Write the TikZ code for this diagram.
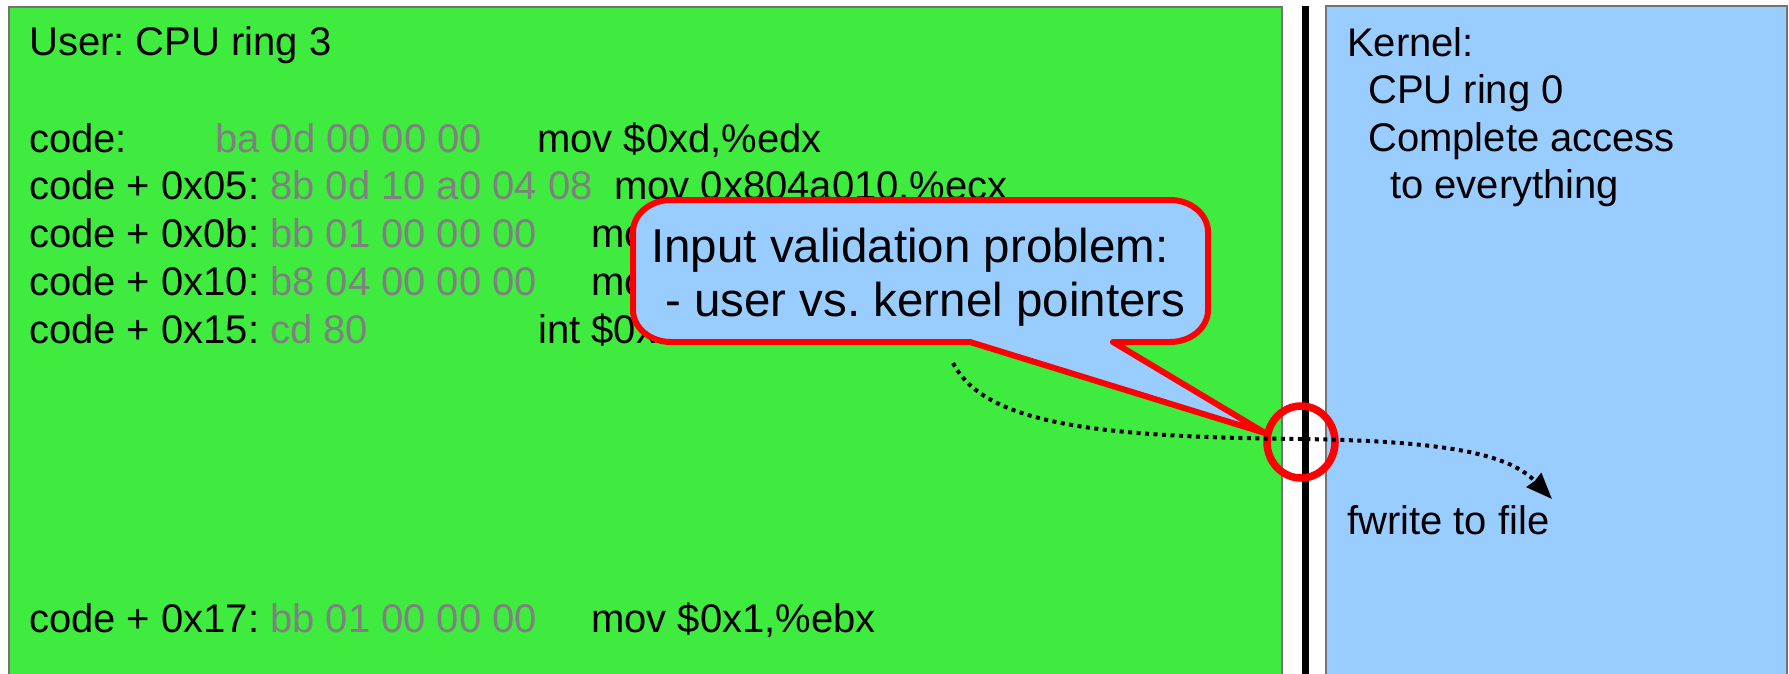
\documentclass[tikz,border=0pt]{standalone}
\usepackage{fontspec}
\setmainfont{Liberation Sans}
\usetikzlibrary{arrows.meta}
\definecolor{usergreen}{RGB}{62,235,62}
\definecolor{kernblue}{RGB}{153,204,255}
\definecolor{hexgray}{RGB}{128,128,128}
\definecolor{callred}{RGB}{255,0,0}
\frenchspacing
\begin{document}
\begin{tikzpicture}[x=1pt,y=-1pt,
  txt/.style={anchor=base west, inner sep=0pt, font=\fontsize{40pt}{47pt}\selectfont\frenchspacing},
  hex/.style={txt, text=hexgray},
  ctxt/.style={anchor=base west, inner sep=0pt, font=\fontsize{47.5pt}{54pt}\selectfont\frenchspacing},
  region/.style={draw=black!55, line width=1.5pt},
  flow/.style={line width=4pt, dash pattern=on 4pt off 4.5pt, -{Stealth[length=26pt,width=20pt,inset=1pt]}},
  calloutshape/.style={draw=callred, fill=kernblue, line width=6pt, line join=round},
  ring/.style={draw=callred, line width=7.5pt}]
\useasboundingbox (0,0) rectangle (1789,673);
% regions
\path[region, fill=usergreen] (9,7) rectangle (1282,690);
\path[region, fill=kernblue] (1326,6) rectangle (1787,690);
\fill[black] (1302,6) rectangle (1309,690);
% user text
\node[txt] (utitle) at (29,55) {User: CPU ring 3};
\node[txt] (l1a) at (29,152) {code:};
\node[hex] (l1b) at (215,152) {ba 0d 00 00 00};
\node[txt] (l1c) at (537,152) {mov \$0xd,\%edx};
\node[txt] (l2a) at (29,199) {code + 0x05:};
\node[hex] (l2b) at (270,199) {8b 0d 10 a0 04 08};
\node[txt] (l2c) at (614,199) {mov 0x804a010,\%ecx};
\node[txt] (l3a) at (29,247) {code + 0x0b:};
\node[hex] (l3b) at (270,247) {bb 01 00 00 00};
\node[txt] (l3c) at (591,247) {mov \$0x1,\%ebx};
\node[txt] (l4a) at (29,295) {code + 0x10:};
\node[hex] (l4b) at (270,295) {b8 04 00 00 00};
\node[txt] (l4c) at (591,295) {mov \$0x4,\%eax};
\node[txt] (l5a) at (29,343) {code + 0x15:};
\node[hex] (l5b) at (270,343) {cd 80};
\node[txt] (l5c) at (538,343) {int \$0x80};
\node[txt] (l6a) at (29,632) {code + 0x17:};
\node[hex] (l6b) at (270,632) {bb 01 00 00 00};
\node[txt] (l6c) at (591,632) {mov \$0x1,\%ebx};
% kernel text
\node[txt] (k1) at (1347,56) {Kernel:};
\node[txt] (k2) at (1368,103) {CPU ring 0};
\node[txt] (k3) at (1368,151) {Complete access};
\node[txt] (k4) at (1390,198) {to everything};
\node[txt] (kf) at (1347,534) {fwrite to file};
% callout
\draw[calloutshape] (970,342) -- (1265,433) -- (1113,342) -- (1170,342)
  arc[start angle=90, end angle=0, x radius=38, y radius=32] -- (1208,232)
  arc[start angle=0, end angle=-90, x radius=38, y radius=32] -- (671,200)
  arc[start angle=-90, end angle=-180, x radius=38, y radius=32] -- (633,310)
  arc[start angle=180, end angle=90, x radius=38, y radius=32] -- cycle;
\node[ctxt] (cl1) at (651,262) {Input validation problem:};
\node[ctxt] (cl2) at (665,316) {- user vs. kernel pointers};
% ring
\coordinate (fm) at (1301,439);
\draw[ring] (1301,442) ellipse[x radius=34, y radius=36];
% flow
\coordinate (fs) at (953,363);
\coordinate (fe) at (1552,499);
\draw[flow] (fs) .. controls (985,425) and (1100,437) .. (fm)
  .. controls (1450,441) and (1510,455) .. (fe);
\end{tikzpicture}
\end{document}
